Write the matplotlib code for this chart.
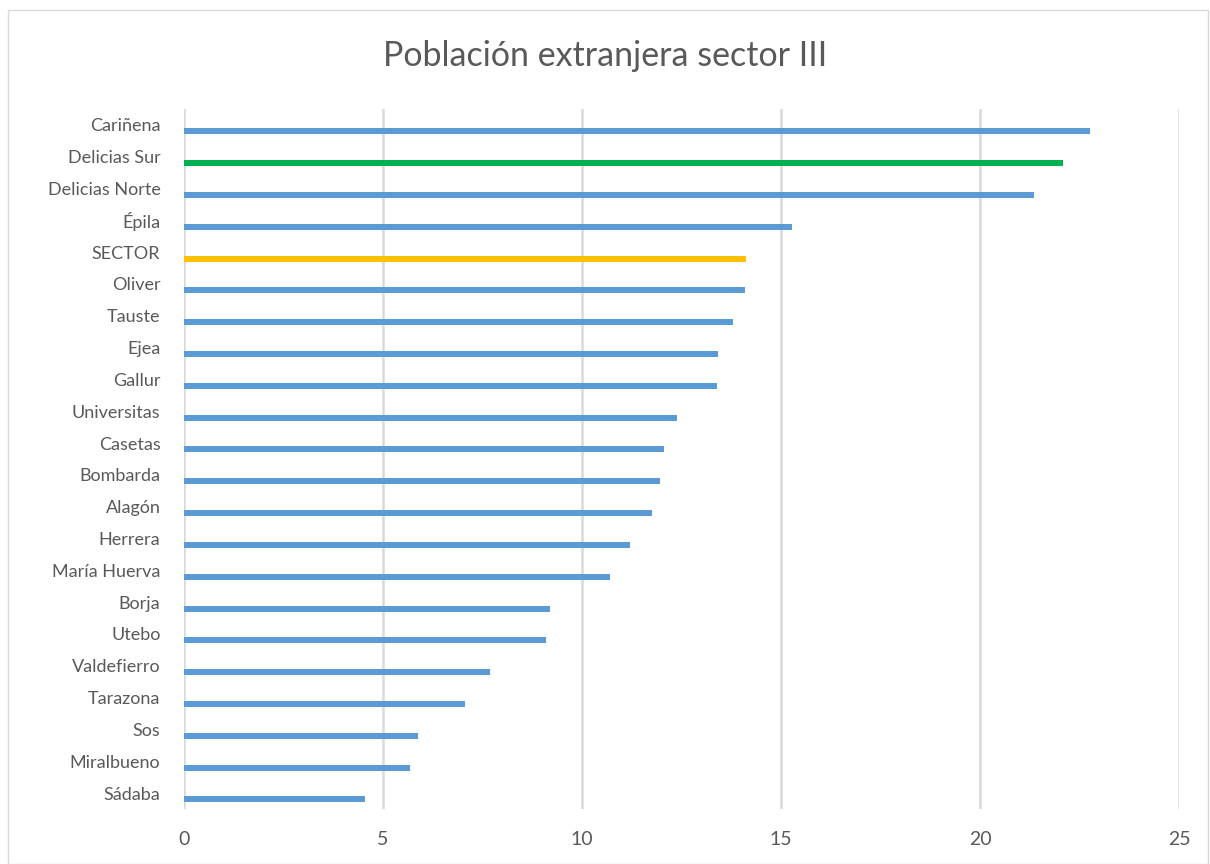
import matplotlib.pyplot as plt
from matplotlib.patches import Rectangle

# Data (top to bottom)
zonas = ['Cariñena', 'Delicias Sur', 'Delicias Norte', 'Épila', 'SECTOR', 'Oliver',
         'Tauste', 'Ejea', 'Gallur', 'Universitas', 'Casetas', 'Bombarda', 'Alagón',
         'Herrera', 'María Huerva', 'Borja', 'Utebo', 'Valdefierro', 'Tarazona',
         'Sos', 'Miralbueno', 'Sádaba']
valores = [22.76, 22.09, 21.36, 15.27, 14.12, 14.10, 13.79, 13.41, 13.39, 12.38,
           12.05, 11.96, 11.75, 11.20, 10.70, 9.20, 9.10, 7.70, 7.07, 5.87, 5.69, 4.56]
colores = {'Delicias Sur': '#00B050', 'SECTOR': '#FFC000'}

plt.rcParams['font.family'] = ['Lato', 'DejaVu Sans']

fig = plt.figure(figsize=(12.1, 8.64), dpi=100)
fig.patches.append(Rectangle((8 / 1210, 0), 1200 / 1210, 854 / 864, transform=fig.transFigure,
                             fill=False, edgecolor='#D9D9D9', linewidth=1))
ax = fig.add_axes([184 / 1210, 55 / 864, 995 / 1210, 700 / 864])

pos = list(range(len(zonas)))
bar_colors = [colores.get(z, '#5B9BD5') for z in zonas]
ax.barh([p + 0.2 for p in pos], valores, height=0.19, color=bar_colors, zorder=3)

ax.set_yticks(pos)
ax.set_yticklabels(zonas, fontsize=13, color='#595959')
ax.set_ylim(len(zonas) - 0.5, -0.5)
ax.set_xlim(0, 25)
ax.set_xticks(range(0, 26, 5))
ax.tick_params(axis='x', labelsize=14, labelcolor='#595959', length=0, pad=16)
ax.tick_params(axis='y', length=0, pad=17)
ax.grid(axis='x', color='#D9D9D9', linewidth=1.8, zorder=0)
for s in ax.spines.values():
    s.set_visible(False)

fig.text(0.5, 1 - 56 / 864, 'Población extranjera sector III', ha='center', va='center',
         fontsize=24.5, color='#595959')

fig.savefig('out.png', dpi=100)
